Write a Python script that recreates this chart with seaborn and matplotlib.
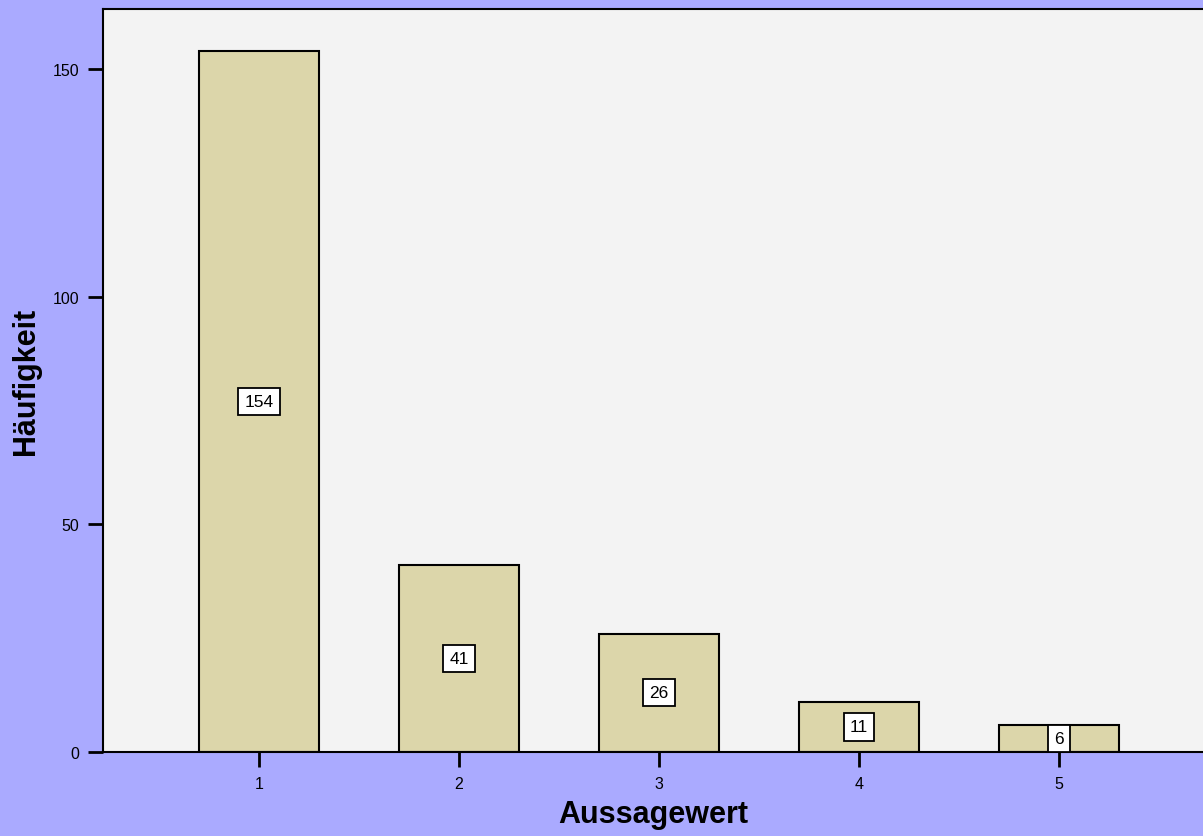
import pandas as pd
import matplotlib.pyplot as plt
import seaborn as sns

werte = ["1", "2", "3", "4", "5"]
haeufigkeit = [154, 41, 26, 11, 6]

df = pd.DataFrame({"Aussagewert": werte, "Häufigkeit": haeufigkeit})

sns.set_style("white")
plt.rcParams['font.family'] = ['Liberation Sans', 'DejaVu Sans']
plt.rcParams['text.color'] = 'black'
plt.rcParams['axes.labelcolor'] = 'black'
plt.rcParams['xtick.color'] = 'black'
plt.rcParams['ytick.color'] = 'black'

fig = plt.figure(figsize=(12.03, 8.37), dpi=100, facecolor="#AAAAFF")
ax = fig.add_axes([103/1203, 84/837, 1100/1203, 743/837])
ax.set_facecolor("#F3F3F3")

sns.barplot(data=df, x="Aussagewert", y="Häufigkeit", order=werte, color="#DCD6AA",
            saturation=1, width=0.6, edgecolor="black", linewidth=1.5, ax=ax)

for i, v in enumerate(haeufigkeit):
    ax.text(i, v / 2, str(v), ha="center", va="center", fontsize=12.5, color="black",
            bbox=dict(boxstyle="square,pad=0.35", facecolor="white", edgecolor="black", linewidth=1.3))

ax.set_xlim(-0.78, 4.72)
ax.set_ylim(0, 163.2)
ax.set_yticks([0, 50, 100, 150])
for s in ["left", "bottom", "top"]:
    ax.spines[s].set_visible(True)
    ax.spines[s].set_color("black")
    ax.spines[s].set_linewidth(1.5)
ax.spines["right"].set_visible(False)
ax.tick_params(axis="both", length=11, width=2, labelsize=11.5, pad=6, direction="out")
ax.tick_params(left=True, bottom=True)
ax.set_xlabel("Aussagewert", fontsize=22, fontweight="bold", labelpad=6)
ax.set_ylabel("Häufigkeit", fontsize=22, fontweight="bold")
ax.yaxis.set_label_coords(-62/1100, 0.5)

fig.savefig("out.png", dpi=100, facecolor=fig.get_facecolor())
